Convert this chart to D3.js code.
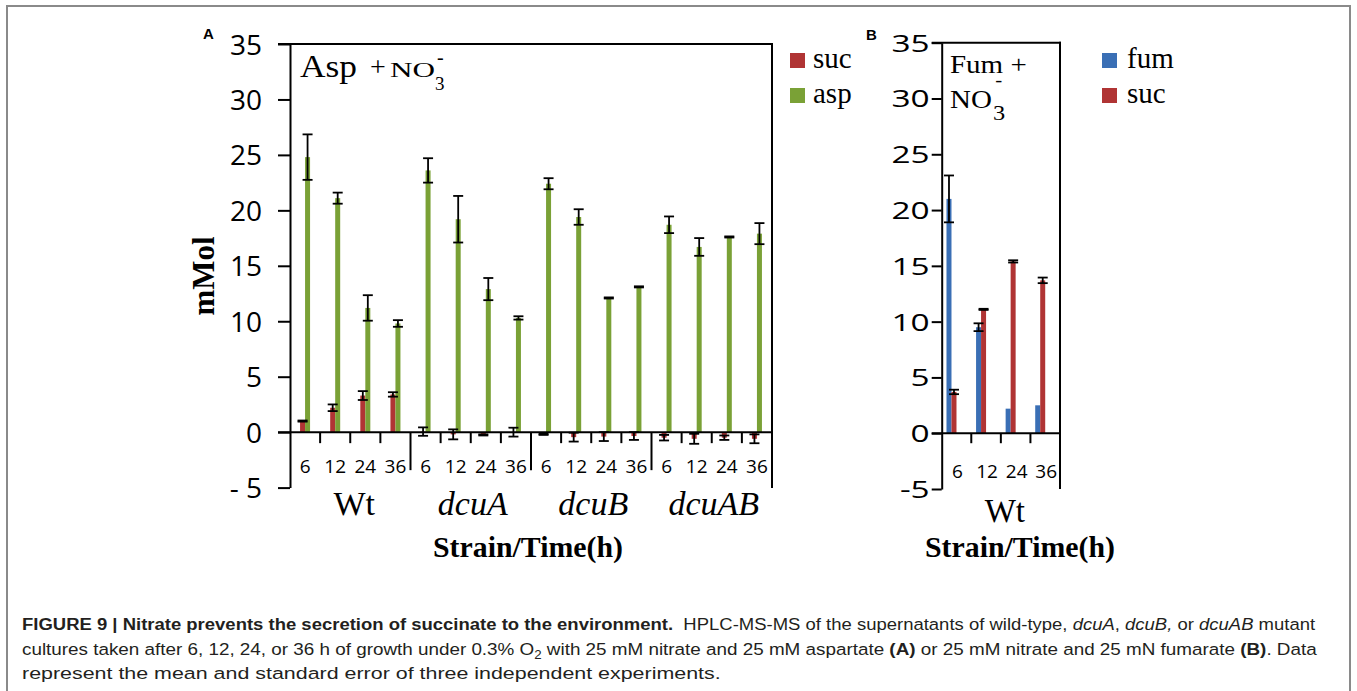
<!DOCTYPE html>
<html><head><meta charset="utf-8">
<script src="https://cdn.jsdelivr.net/npm/d3@7"></script>
<style>body{margin:0;background:#fff}svg{display:block}</style>
</head><body>
<svg id="c" width="1357" height="691"></svg>
<script>
// ---------- DATA ----------
const strainsA = ["Wt", "dcuA", "dcuB", "dcuAB"];
const timesA = ["6", "12", "24", "36"];
const sucA    = [1.0, 2.2, 3.3, 3.4,  0.05, -0.2, -0.25, 0.0,  -0.2, -0.45, -0.4, -0.35,  -0.5, -0.6, -0.5, -0.6];
const sucAErr = [0.05, 0.3, 0.4, 0.2, 0.38, 0.45, 0.05, 0.4,  0.05, 0.4, 0.4, 0.35,  0.25, 0.45, 0.2, 0.4];
const aspA    = [24.8, 21.1, 11.2, 9.8,  23.6, 19.2, 12.9, 10.3,  22.4, 19.4, 12.1, 13.1,  18.7, 16.7, 17.6, 17.9];
const aspAErr = [2.05, 0.5, 1.15, 0.3,  1.1, 2.1, 1.0, 0.15,  0.5, 0.7, 0.05, 0.05,  0.75, 0.8, 0.05, 0.95];
const yTickValsA = [-5, 0, 5, 10, 15, 20, 25, 30, 35];
const yTickLabelsA = ["- 5", "0", "5", "10", "15", "20", "25", "30", "35"];

const strainsB = ["Wt"];
const timesB = ["6", "12", "24", "36"];
const fumB    = [21.0, 9.5, 2.2, 2.5];
const fumBErr = [2.1, 0.35, 0, 0];
const sucB    = [3.7, 11.1, 15.4, 13.7];
const sucBErr = [0.2, 0.05, 0.1, 0.25];
const yTickValsB = [-5, 0, 5, 10, 15, 20, 25, 30, 35];
const yTickLabelsB = ["-5", "0", "5", "10", "15", "20", "25", "30", "35"];

const legendA = ["suc", "asp"];
const legendB = ["fum", "suc"];

// ---------- STYLE ----------
const RED = "#b03434", GREEN = "#7aa136", BLUE = "#3a6fb5";
const SERIF = "'Liberation Serif','Times New Roman',serif";
const SANS = "'Open Sans','Noto Sans',sans-serif";
const svg = d3.select("#c");

function label(g, o) {
  const t = g.append("text")
    .attr("font-family", o.family || SERIF)
    .attr("font-size", o.size)
    .attr("text-anchor", o.anchor || "start")
    .attr("fill", o.fill || "#000")
    .text(o.text);
  if (o.weight) t.attr("font-weight", o.weight);
  if (o.style) t.attr("font-style", o.style);
  if (o.len) t.attr("textLength", o.len).attr("lengthAdjust", "spacingAndGlyphs");
  t.attr("transform", `translate(${o.x},${o.y})` + (o.rot ? ` rotate(${o.rot})` : ""));
  return t;
}

function errorBar(g, x, yTop, yBot, cap) {
  g.append("line").attr("x1", x).attr("x2", x).attr("y1", yTop).attr("y2", yBot);
  g.append("line").attr("x1", x - cap / 2).attr("x2", x + cap / 2).attr("y1", yTop).attr("y2", yTop);
  g.append("line").attr("x1", x - cap / 2).attr("x2", x + cap / 2).attr("y1", yBot).attr("y2", yBot);
}

// ---------- PANEL A ----------
const nA = strainsA.length * timesA.length;
const xA = d3.scaleBand().domain(d3.range(nA)).range([290, 772]).padding(0);
const yA = d3.scaleLinear().domain([-5, 35]).range([487.6, 44]);
const gA = svg.append("g");
const bw = 5;

const seriesA = [
  {vals: sucA, err: sucAErr, color: RED, off: -bw},
  {vals: aspA, err: aspAErr, color: GREEN, off: 0}
];
seriesA.forEach(s => {
  gA.append("g").selectAll("rect").data(s.vals).join("rect")
    .attr("x", (d, i) => xA(i) + xA.bandwidth() / 2 + s.off)
    .attr("width", bw)
    .attr("y", d => yA(Math.max(d, 0)))
    .attr("height", d => Math.abs(yA(d) - yA(0)))
    .attr("fill", s.color);
});

const axA = gA.append("g").attr("transform", "translate(290,0)")
  .call(d3.axisLeft(yA).tickValues(yTickValsA).tickFormat((d, i) => yTickLabelsA[i])
    .tickSize(12).tickSizeOuter(0).tickPadding(16));
axA.select(".domain").attr("stroke", "#000").attr("stroke-width", 2);
axA.selectAll(".tick line").attr("stroke", "#000").attr("stroke-width", 2);
axA.selectAll(".tick text").attr("font-family", SANS).attr("font-size", 28).attr("fill", "#000").attr("dy", "0.36em");

const frameA = gA.append("g").attr("stroke", "#000").attr("stroke-width", 2);
frameA.append("line").attr("x1", 278).attr("x2", 773).attr("y1", 44).attr("y2", 44);
frameA.append("line").attr("x1", 772).attr("x2", 772).attr("y1", 43).attr("y2", 488);
frameA.append("line").attr("x1", 278).attr("x2", 772).attr("y1", yA(0)).attr("y2", yA(0));
d3.range(1, nA).forEach(i => {
  const isSep = i % timesA.length === 0;
  frameA.append("line").attr("x1", xA(i)).attr("x2", xA(i))
    .attr("y1", yA(0)).attr("y2", yA(0) + (isSep ? 38 : 11));
});

const ebA = gA.append("g").attr("stroke", "#000").attr("stroke-width", 1.8);
seriesA.forEach(s => {
  s.vals.forEach((v, i) => {
    const e = s.err[i];
    if (!e) return;
    const cx = xA(i) + xA.bandwidth() / 2 + s.off + bw / 2;
    errorBar(ebA, cx, yA(v + e), yA(v - e), 10);
  });
});

d3.range(nA).forEach(i => {
  label(gA, {x: xA(i) + xA.bandwidth() / 2, y: 473, text: timesA[i % timesA.length], size: 19, family: SANS, anchor: "middle"});
});
strainsA.forEach((s, k) => {
  const c = (xA(k * 4) + xA(k * 4 + 3) + xA.bandwidth()) / 2;
  label(gA, {x: c + (k === 0 ? 4 : 2), y: 515, text: s, size: 34, anchor: "middle", style: k === 0 ? null : "italic"});
});
label(gA, {x: 528, y: 557, text: "Strain/Time(h)", size: 29, weight: "bold", anchor: "middle", len: 190});
label(gA, {x: 214, y: 276, text: "mMol", size: 31, weight: "bold", anchor: "middle", rot: -90});
label(gA, {x: 203, y: 39, text: "A", size: 15, weight: "bold", family: "'Liberation Sans',Arial,sans-serif"});

label(gA, {x: 300, y: 77, text: "Asp", size: 32, len: 57});
label(gA, {x: 370, y: 76, text: "+", size: 28});
label(gA, {x: 390, y: 77, text: "NO", size: 22, len: 45});
label(gA, {x: 435, y: 90, text: "3", size: 19});
label(gA, {x: 437, y: 64, text: "-", size: 20});

[RED, GREEN].forEach((c, i) => {
  gA.append("rect").attr("x", 790).attr("y", 53 + i * 35).attr("width", 15).attr("height", 15).attr("fill", c);
  label(gA, {x: 813, y: 68 + i * 35, text: legendA[i], size: 29});
});

// ---------- PANEL B ----------
const xB = d3.scaleBand().domain(d3.range(timesB.length)).range([941.7, 1060]).padding(0);
const yB = d3.scaleLinear().domain([-5, 35]).range([489, 42.7]);
const gB = svg.append("g");
const seriesB = [
  {vals: fumB, err: fumBErr, color: BLUE, off: -2 * bw},
  {vals: sucB, err: sucBErr, color: RED, off: -bw}
];
seriesB.forEach(s => {
  gB.append("g").selectAll("rect").data(s.vals).join("rect")
    .attr("x", (d, i) => xB(i) + xB.bandwidth() / 2 + s.off)
    .attr("width", bw)
    .attr("y", d => yB(Math.max(d, 0)))
    .attr("height", d => Math.abs(yB(d) - yB(0)))
    .attr("fill", s.color);
});
const axB = gB.append("g").attr("transform", "translate(941.7,0)")
  .call(d3.axisLeft(yB).tickValues(yTickValsB).tickFormat((d, i) => yTickLabelsB[i])
    .tickSize(10).tickSizeOuter(0));
axB.select(".domain").attr("stroke", "#000").attr("stroke-width", 2);
axB.selectAll(".tick line").attr("stroke", "#000").attr("stroke-width", 2);
axB.selectAll(".tick text").attr("font-family", SANS).attr("font-size", 23.5).attr("fill", "#000")
  .attr("dy", "0.36em").attr("x", -12 / 1.42).attr("transform", "scale(1.42,1)");

const frameB = gB.append("g").attr("stroke", "#000").attr("stroke-width", 2);
frameB.append("line").attr("x1", 931.7).attr("x2", 1061).attr("y1", 42.7).attr("y2", 42.7);
frameB.append("line").attr("x1", 1060).attr("x2", 1060).attr("y1", 41.7).attr("y2", 489);
frameB.append("line").attr("x1", 931.7).attr("x2", 1060).attr("y1", yB(0)).attr("y2", yB(0));
d3.range(1, timesB.length).forEach(i => {
  frameB.append("line").attr("x1", xB(i)).attr("x2", xB(i)).attr("y1", yB(0)).attr("y2", yB(0) + 10);
});
const ebB = gB.append("g").attr("stroke", "#000").attr("stroke-width", 1.8);
seriesB.forEach(s => {
  s.vals.forEach((v, i) => {
    const e = s.err[i];
    if (!e) return;
    const cx = xB(i) + xB.bandwidth() / 2 + s.off + bw / 2;
    errorBar(ebB, cx, yB(v + e), yB(v - e), 10);
  });
});
timesB.forEach((t, i) => {
  label(gB, {x: xB(i) + xB.bandwidth() / 2 + 1, y: 478, text: t, size: 19, family: SANS, anchor: "middle"});
});
label(gB, {x: (941.7 + 1060) / 2 + 4, y: 522, text: strainsB[0], size: 33, anchor: "middle"});
label(gB, {x: 1020, y: 557, text: "Strain/Time(h)", size: 29, weight: "bold", anchor: "middle", len: 190});
label(gB, {x: 866, y: 40, text: "B", size: 15, weight: "bold", family: "'Liberation Sans',Arial,sans-serif"});

// two-line inset title as a single text element
const tB = gB.append("text").attr("font-family", SERIF).attr("font-size", 25).attr("fill", "#000")
  .attr("transform", "translate(950,0) scale(1.16,1)");
tB.append("tspan").attr("x", 0).attr("y", 73).text("Fum +");
tB.append("tspan").attr("x", 0).attr("y", 108).text("NO");
tB.append("tspan").attr("x", 37).attr("y", 120).attr("font-size", 21).text("3");
tB.append("tspan").attr("x", 39).attr("y", 86).attr("font-size", 18).text("-");

[BLUE, RED].forEach((c, i) => {
  gB.append("rect").attr("x", 1102).attr("y", 53 + i * 35).attr("width", 15).attr("height", 15).attr("fill", c);
  label(gB, {x: 1127, y: 68 + i * 35, text: legendB[i], size: 29});
});

// ---------- FRAME ----------
const fr = svg.append("g").attr("stroke", "#8a8a8a").attr("stroke-width", 2).attr("fill", "none");
fr.append("path").attr("d", "M7,700 V6 H1350 V700");

// ---------- CAPTION ----------
function captionLine(parts, y, targetW) {
  const t = svg.append("text").attr("font-family", "'Liberation Sans',Arial,sans-serif")
    .attr("font-size", 17).attr("fill", "#231f20");
  parts.forEach(p => {
    const ts = t.append("tspan").text(p.t);
    if (p.b) ts.attr("font-weight", "bold");
    if (p.i) ts.attr("font-style", "italic");
    if (p.sub) ts.attr("font-size", 12).attr("dy", 4);
    if (p.back) ts.attr("dy", -4);
  });
  const w = t.node().getComputedTextLength();
  t.attr("transform", `translate(22,${y}) scale(${targetW / w},1)`);
}
captionLine([
  {t: "FIGURE 9 | Nitrate prevents the secretion of succinate to the environment.", b: true},
  {t: "\u00a0 HPLC-MS-MS of the supernatants of wild-type, "},
  {t: "dcuA", i: true}, {t: ", "}, {t: "dcuB,", i: true}, {t: " or "}, {t: "dcuAB", i: true}, {t: " mutant"}
], 630, 1294);
captionLine([
  {t: "cultures taken after 6, 12, 24, or 36 h of growth under 0.3% O"},
  {t: "2", sub: true},
  {t: " with 25 mM nitrate and 25 mM aspartate ", back: true},
  {t: "(A)", b: true}, {t: " or 25 mM nitrate and 25 mN fumarate "}, {t: "(B)", b: true}, {t: ". Data"}
], 655, 1296);
captionLine([
  {t: "represent the mean and standard error of three independent experiments."}
], 679, 699);
</script>
</body></html>
